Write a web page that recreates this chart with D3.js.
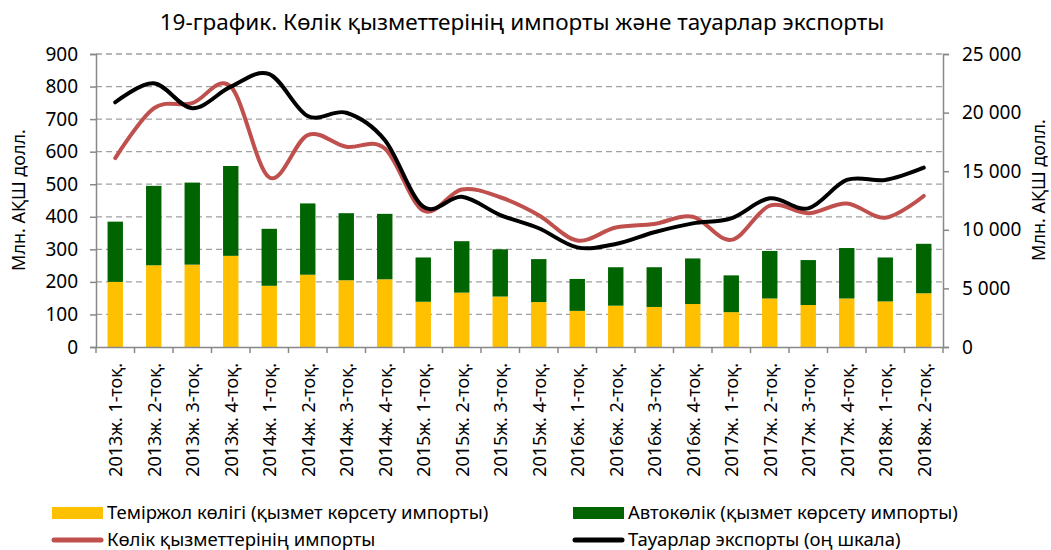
<!DOCTYPE html>
<html>
<head>
<meta charset="utf-8">
<script src="https://cdn.jsdelivr.net/npm/d3@7"></script>
<style>
  body { margin: 0; background: #fff; }
  text { font-family: "Noto Sans", sans-serif; fill: #000; }
</style>
</head>
<body>
<script>
// quarters
var quarters = ["2013ж. 1-тоқ.", "2013ж. 2-тоқ.", "2013ж. 3-тоқ.", "2013ж. 4-тоқ.",
  "2014ж. 1-тоқ.", "2014ж. 2-тоқ.", "2014ж. 3-тоқ.", "2014ж. 4-тоқ.",
  "2015ж. 1-тоқ.", "2015ж. 2-тоқ.", "2015ж. 3-тоқ.", "2015ж. 4-тоқ.",
  "2016ж. 1-тоқ.", "2016ж. 2-тоқ.", "2016ж. 3-тоқ.", "2016ж. 4-тоқ.",
  "2017ж. 1-тоқ.", "2017ж. 2-тоқ.", "2017ж. 3-тоқ.", "2017ж. 4-тоқ.",
  "2018ж. 1-тоқ.", "2018ж. 2-тоқ."];

// left scale, mln USD
var railImports = [200, 251, 253, 280, 188, 222, 205, 208, 139, 167, 155, 138, 111, 127, 123, 132, 107, 149, 129, 149, 140, 165];
var roadImports = [185, 244, 252, 276, 175, 219, 206, 201, 136, 158, 145, 132, 98, 118, 122, 140, 113, 146, 138, 155, 135, 152];
var transportImports = [580, 733, 749, 800, 521, 651, 615, 610, 419, 484, 460, 405, 327, 367, 378, 400, 329, 434, 411, 441, 397, 464];
// right scale
var goodsExports = [20880, 22500, 20370, 22210, 23290, 19710, 19990, 17660, 11970, 12820, 11260, 10130, 8500, 8790, 9790, 10550, 10980, 12690, 11830, 14250, 14250, 15300];

var leftTicks = [0, 100, 200, 300, 400, 500, 600, 700, 800, 900];
var rightTicks = [0, 5000, 10000, 15000, 20000, 25000];

var W = 1051, H = 550;
var plot = {left: 96, right: 943, top: 54, bottom: 347};

var svg = d3.select("body").append("svg")
    .attr("width", W)
    .attr("height", H);

var x = d3.scaleBand().domain(quarters).range([plot.left, plot.right]).padding(0),
    yL = d3.scaleLinear().domain([0, 900]).range([plot.bottom, plot.top]),
    yR = d3.scaleLinear().domain([0, 25000]).range([plot.bottom, plot.top]);

var fmt = d => d3.format(",")(d).replace(/,/g, " ");

// title
svg.append("text")
    .attr("x", 522).attr("y", 30)
    .attr("text-anchor", "middle")
    .style("font-size", "22.5px")
    .text("19-график. Көлік қызметтерінің импорты және тауарлар экспорты");

// gridlines
svg.append("g")
    .selectAll("line")
    .data(leftTicks.slice(1))
    .enter().append("line")
    .attr("x1", plot.left).attr("x2", plot.right)
    .attr("y1", d => yL(d)).attr("y2", d => yL(d))
    .attr("stroke", "#a0a0a0")
    .attr("stroke-width", 1.3)
    .attr("stroke-dasharray", "6,4");

// bars
var bw = x.bandwidth() * 0.4;
var bars = svg.append("g");
bars.selectAll(".rail")
    .data(quarters)
    .enter().append("rect")
    .attr("x", d => x(d) + (x.bandwidth() - bw) / 2)
    .attr("width", bw)
    .attr("y", (d, i) => yL(railImports[i]))
    .attr("height", (d, i) => yL(0) - yL(railImports[i]))
    .attr("fill", "#FFC000");
bars.selectAll(".road")
    .data(quarters)
    .enter().append("rect")
    .attr("x", d => x(d) + (x.bandwidth() - bw) / 2)
    .attr("width", bw)
    .attr("y", (d, i) => yL(railImports[i] + roadImports[i]))
    .attr("height", (d, i) => yL(railImports[i]) - yL(railImports[i] + roadImports[i]))
    .attr("fill", "#006400");

// axes
var axL = svg.append("g")
    .attr("transform", `translate(${plot.left},0)`)
    .call(d3.axisLeft(yL).tickValues(leftTicks).tickSize(6).tickPadding(12));
var axR = svg.append("g")
    .attr("transform", `translate(${plot.right},0)`)
    .call(d3.axisRight(yR).tickValues(rightTicks).tickFormat(fmt).tickSize(6).tickPadding(13));
var axX = svg.append("g")
    .attr("transform", `translate(0,${plot.bottom})`)
    .call(d3.axisBottom(x).tickSize(0).tickFormat(""));

[axL, axR, axX].forEach(function(a) {
  a.select(".domain").attr("stroke", "#888").attr("stroke-width", 1.5);
  a.selectAll(".tick line").attr("stroke", "#888").attr("stroke-width", 1.5);
  a.selectAll(".tick text").style("font-size", "19px").style("font-family", "Noto Sans").attr("fill", "#000");
});

// x tick marks at category boundaries
svg.append("g")
    .selectAll("line")
    .data(quarters.concat(["end"]))
    .enter().append("line")
    .attr("x1", (d, i) => i < quarters.length ? x(d) : plot.right)
    .attr("x2", (d, i) => i < quarters.length ? x(d) : plot.right)
    .attr("y1", plot.bottom).attr("y2", plot.bottom + 6)
    .attr("stroke", "#888").attr("stroke-width", 1.5);

// x labels
svg.append("g")
    .selectAll("text")
    .data(quarters)
    .enter().append("text")
    .attr("transform", d => `translate(${x(d) + x.bandwidth() / 2 + 7},363) rotate(-90)`)
    .attr("text-anchor", "end")
    .style("font-size", "18px")
    .text(d => d);

// lines
var lineL = d3.line().x((d, i) => x(quarters[i]) + x.bandwidth() / 2).y(d => yL(d)).curve(d3.curveCardinal.tension(0)),
    lineR = d3.line().x((d, i) => x(quarters[i]) + x.bandwidth() / 2).y(d => yR(d)).curve(d3.curveCardinal.tension(0));

svg.append("path")
    .attr("d", lineL(transportImports))
    .attr("fill", "none")
    .attr("stroke", "#C0504D")
    .attr("stroke-width", 4)
    .attr("stroke-linecap", "round");
svg.append("path")
    .attr("d", lineR(goodsExports))
    .attr("fill", "none")
    .attr("stroke", "#000")
    .attr("stroke-width", 4)
    .attr("stroke-linecap", "round");

// axis titles
svg.append("text")
    .attr("transform", "translate(25,200) rotate(-90)")
    .attr("text-anchor", "middle")
    .style("font-size", "18px")
    .text("Млн. АҚШ долл.");
svg.append("text")
    .attr("transform", "translate(1045,190) rotate(-90)")
    .attr("text-anchor", "middle")
    .style("font-size", "18px")
    .text("Млн. АҚШ долл.");

// legend
var legendItems = [
  {label: "Теміржол көлігі (қызмет көрсету импорты)", kind: "rect", color: "#FFC000", x: 52, y: 513},
  {label: "Автокөлік (қызмет көрсету импорты)", kind: "rect", color: "#006400", x: 573, y: 513},
  {label: "Көлік қызметтерінің импорты", kind: "line", color: "#C0504D", x: 52, y: 540},
  {label: "Тауарлар экспорты (оң шкала)", kind: "line", color: "#000", x: 573, y: 540}
];
var lg = svg.append("g").selectAll("g").data(legendItems).enter().append("g");
lg.filter(d => d.kind === "rect").append("rect")
    .attr("x", d => d.x).attr("y", d => d.y - 6)
    .attr("width", 51).attr("height", 12)
    .attr("fill", d => d.color);
lg.filter(d => d.kind === "line").append("line")
    .attr("x1", d => d.x + 2).attr("x2", d => d.x + 49)
    .attr("y1", d => d.y).attr("y2", d => d.y)
    .attr("stroke", d => d.color)
    .attr("stroke-width", 5)
    .attr("stroke-linecap", "round");
lg.append("text")
    .attr("x", d => d.x + 55).attr("y", d => d.y + 6)
    .style("font-size", "18.5px")
    .text(d => d.label);
</script>
</body>
</html>
